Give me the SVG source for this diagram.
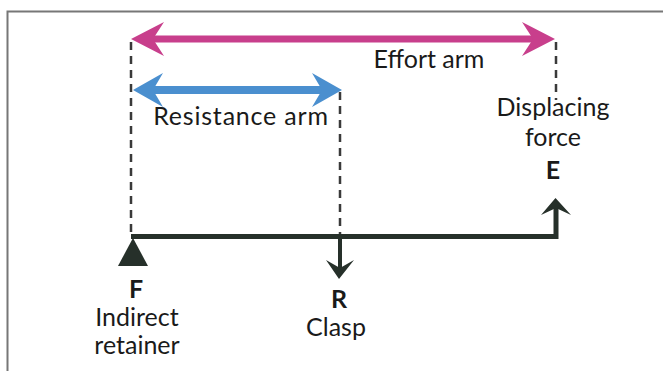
<svg xmlns="http://www.w3.org/2000/svg" width="663" height="371" viewBox="0 0 663 371">
<style>
text{font-family:Lato,"Open Sans","Liberation Sans",sans-serif;font-size:25px;fill:#1a1a1a;text-anchor:middle}
.b{font-weight:bold}
.dash{stroke:#3a3a3a;stroke-width:2.5;stroke-dasharray:8 6;fill:none}
.pink{fill:#c83f8c}
.blue{fill:#4a8fcf}
.dark{fill:#26302a}
</style>
<rect width="663" height="371" fill="#fff"/>
<path d="M7.5 371V11.5H663" fill="none" stroke="#777" stroke-width="2"/>
<g id="connectors">
<line class="dash" x1="131" y1="42" x2="131" y2="234"/>
<line class="dash" x1="340" y1="92" x2="340" y2="234"/>
<line class="dash" x1="556" y1="42" x2="556" y2="100"/>
</g>
<g id="effort-arm">
<rect class="pink" x="150" y="35.5" width="386" height="7"/>
<path class="pink" d="M131 39L164 22L153 39L164 56Z"/>
<path class="pink" d="M555 39L522 22L533 39L522 56Z"/>
<text x="429" y="68">Effort arm</text>
</g>
<g id="resistance-arm">
<rect class="blue" x="150" y="86" width="174" height="8"/>
<path class="blue" d="M133 90L163 73L153 90L163 107Z"/>
<path class="blue" d="M342 90L312 73L322 90L312 107Z"/>
<text x="241" y="125" style="letter-spacing:0.8px">Resistance arm</text>
</g>
<g id="beam">
<path d="M131 236.5H556V208" fill="none" stroke="#26302a" stroke-width="5"/>
<path class="dark" d="M555.5 198L571 215L556 208L541 215Z"/>
</g>
<g id="clasp-arrow">
<line x1="340" y1="236" x2="340" y2="268" stroke="#26302a" stroke-width="4"/>
<path class="dark" d="M339 279L354 260L340 268L326 260Z"/>
</g>
<g id="fulcrum">
<path class="dark" d="M133 238L148 266H118Z"/>
</g>
<g id="labels">
<text x="553" y="116">Displacing</text>
<text x="553" y="146">force</text>
<text class="b" x="553" y="179">E</text>
<text class="b" x="136" y="298">F</text>
<text x="137" y="326">Indirect</text>
<text x="137" y="354">retainer</text>
<text class="b" x="339" y="308">R</text>
<text x="336" y="336">Clasp</text>
</g>
</svg>
